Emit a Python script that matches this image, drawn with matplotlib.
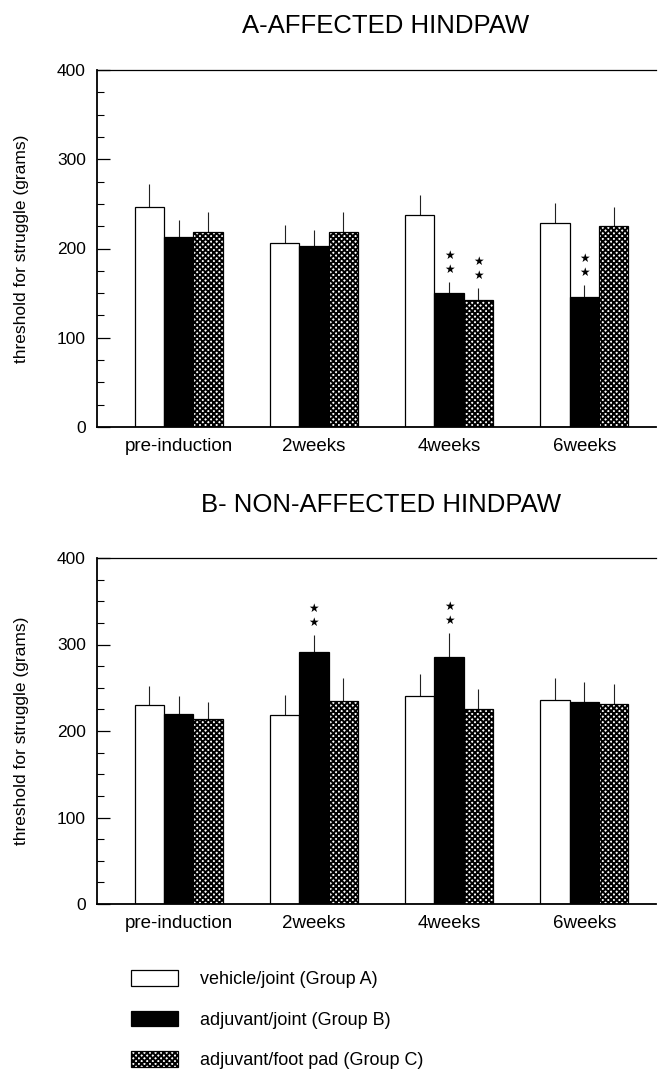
import numpy as np
import matplotlib
matplotlib.use("Agg")
import matplotlib.pyplot as plt
from matplotlib.ticker import MultipleLocator

plt.rcParams['font.family'] = ['Liberation Sans', 'DejaVu Sans']
plt.rcParams['hatch.linewidth'] = 1.4

# ---- data ----
timepoints = ["pre-induction", "2weeks", "4weeks", "6weeks"]
groups = ["vehicle/joint (Group A)", "adjuvant/joint (Group B)",
          "adjuvant/foot pad (Group C)"]

# panel A - affected hindpaw (mean, sem) per group, per timepoint
affected_A = [246, 206, 238, 229]
affected_B = [213, 203, 150, 146]
affected_C = [219, 219, 142, 225]
affected_A_sem = [26, 20, 22, 22]
affected_B_sem = [19, 18, 13, 13]
affected_C_sem = [22, 22, 14, 22]
affected_stars = [[0, 0, 0], [0, 0, 0], [0, 2, 2], [0, 2, 0]]

# panel B - non-affected hindpaw
nonaff_A = [230, 218, 241, 236]
nonaff_B = [220, 291, 286, 233]
nonaff_C = [214, 235, 226, 231]
nonaff_A_sem = [22, 24, 25, 25]
nonaff_B_sem = [21, 20, 27, 24]
nonaff_C_sem = [20, 26, 23, 23]
nonaff_stars = [[0, 0, 0], [0, 2, 0], [0, 2, 0], [0, 0, 0]]

yticks = [0, 100, 200, 300, 400]

# ---- styling ----
W, H = 660, 1070
fig = plt.figure(figsize=(W / 100, H / 100), dpi=100)

styles = [dict(facecolor="white", hatch=None),
          dict(facecolor="black", hatch=None),
          dict(facecolor="white", hatch="xxxxxx")]


def panel(rect, means, sems, stars, title, title_xy):
    ax = fig.add_axes(rect)
    x = np.arange(len(timepoints))
    width = 0.217
    offs = [-width, 0, width]
    bars = []
    for g in range(3):
        b = ax.bar(x + offs[g], means[g], width, edgecolor="black",
                   linewidth=0.9, zorder=2, **styles[g])
        bars.append(b)
        ax.errorbar(x + offs[g], means[g],
                    yerr=[np.zeros(len(x)), sems[g]], fmt="none",
                    ecolor="#222222", elinewidth=0.8, capsize=0, zorder=1)
        for i in range(len(x)):
            n = stars[i][g]
            top = means[g][i] + sems[g][i]
            for k in range(n):
                ax.annotate("\u2605", xy=(x[i] + offs[g], top),
                            xytext=(0, 9 + 10 * k), textcoords="offset points",
                            ha="center", va="center", fontsize=8.5,
                            family="DejaVu Sans")
    ax.set_xlim(-0.604, 3.53)
    ax.set_ylim(0, 400)
    ax.set_yticks(yticks)
    ax.yaxis.set_minor_locator(MultipleLocator(25))
    ax.tick_params(axis="y", which="major", direction="in", length=9,
                   width=0.9, labelsize=12.5, pad=8)
    ax.tick_params(axis="y", which="minor", direction="in", length=5,
                   width=0.8)
    ax.set_xticks(x)
    ax.set_xticklabels(timepoints)
    ax.tick_params(axis="x", length=0, labelsize=13.5, pad=8)
    ax.spines["right"].set_visible(False)
    for s in ["left", "bottom"]:
        ax.spines[s].set_linewidth(1.3)
    ax.spines["top"].set_linewidth(0.9)
    ax.set_ylabel("threshold for struggle (grams)", fontsize=12.5)
    ax.yaxis.set_label_coords(-0.122, 0.5)
    fig.text(title_xy[0], title_xy[1], title, ha="center", va="center",
             fontsize=18.5)
    return bars


left = 97 / W
width_ax = (656 - 97) / W
bars = panel([left, 1 - 427 / H, width_ax, 357 / H],
             [affected_A, affected_B, affected_C],
             [affected_A_sem, affected_B_sem, affected_C_sem],
             affected_stars, "A-AFFECTED HINDPAW", (386 / W, 1 - 26 / H))
panel([left, 1 - 904 / H, width_ax, 346 / H],
      [nonaff_A, nonaff_B, nonaff_C],
      [nonaff_A_sem, nonaff_B_sem, nonaff_C_sem],
      nonaff_stars, "B- NON-AFFECTED HINDPAW", (381 / W, 1 - 505 / H))

fig.legend([b[0] for b in bars], groups, loc="upper left",
           bbox_to_anchor=(131 / W, 1 - 970 / H), frameon=False,
           fontsize=13, handlelength=2.6, handleheight=0.95,
           labelspacing=1.25, handletextpad=1.2, borderpad=0,
           borderaxespad=0)

fig.savefig("out.png", dpi=100)
